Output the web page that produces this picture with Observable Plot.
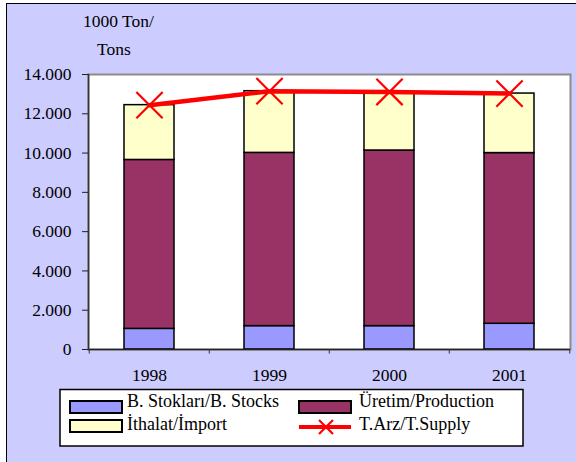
<!DOCTYPE html>
<html>
<head>
<meta charset="utf-8">
<script src="https://cdn.jsdelivr.net/npm/d3@7"></script>
<script src="https://cdn.jsdelivr.net/npm/@observablehq/plot@0.6"></script>
<style>
  html, body { margin: 0; padding: 0; background: #ffffff; }
  #page { position: relative; width: 576px; height: 462px; overflow: hidden; font-family: 'Liberation Serif', serif; }
  #bg { position: absolute; left: 6px; top: 3px; width: 600px; height: 480px; background: #CCCCFF; border-left: 1.5px solid #000; border-top: 1.5px solid #000; }
  #chart { position: absolute; left: 0; top: 0; }
  #overlay { position: absolute; left: 0; top: 0; }
</style>
</head>
<body>
<div id="page">
  <div id="bg"></div>
  <div id="chart"></div>
  <svg id="overlay" width="576" height="462" font-family="Liberation Serif"></svg>
</div>
<script>
// ---- data ----
const years = ["1998", "1999", "2000", "2001"];
const seriesNames = ["B. Stokları/B. Stocks", "Üretim/Production", "İthalat/İmport"];
const seriesColors = ["#9999FF", "#993366", "#FFFFCC"];
const stocks = [1050, 1190, 1190, 1310];
const production = [8600, 8820, 8940, 8690];
const imports = [2790, 3140, 2980, 3030];
const supply = [12440, 13150, 13110, 13030];
const supplyName = "T.Arz/T.Supply";
const yTicks = [0, 2000, 4000, 6000, 8000, 10000, 12000, 14000];
const titleLines = ["1000 Ton/", "Tons"];

const seriesValues = [stocks, production, imports];
const barData = [];
years.forEach((y, i) => {
  seriesNames.forEach((s, j) => barData.push({year: y, series: s, value: seriesValues[j][i]}));
});
const lineData = years.map((y, i) => ({year: y, value: supply[i]}));

const fmt = d => d === 0 ? "0" : d3.format(",")(d).replace(/,/g, ".");
const FONT = "'Liberation Serif', serif";
const step = (570.5 - 88.5) / years.length;

const plot = Plot.plot({
  width: 576,
  height: 462,
  marginLeft: 88,
  marginRight: 6,
  marginTop: 74,
  marginBottom: 113,
  style: {background: "transparent", fontFamily: FONT, fontSize: "17.5px", color: "#000", overflow: "visible"},
  x: {domain: years, paddingInner: 0.58, paddingOuter: 0.29, label: null},
  y: {domain: [0, 14000], label: null},
  color: {domain: seriesNames, range: seriesColors},
  marks: [
    Plot.frame({fill: "white", stroke: "#8c8c8c", strokeWidth: 2}),
    Plot.barY(barData, {x: "year", y: "value", fill: "series", stroke: "#000", strokeWidth: 1.5}),
    Plot.ruleY([0], {stroke: "#222", strokeWidth: 1.5}),
    Plot.frame({anchor: "left", stroke: "#333", strokeWidth: 1.5}),
    Plot.ruleX(years, {x: d => d, y1: 0, y2: -230, dx: -step / 2, stroke: "#333", strokeWidth: 1}),
    Plot.ruleX(years.slice(-1), {x: d => d, y1: 0, y2: -230, dx: step / 2, stroke: "#333", strokeWidth: 1}),
    Plot.axisY({ticks: yTicks, tickFormat: fmt, tickSize: 6, tickPadding: 11, stroke: "#222", fill: "#000", fontSize: 17.5, fontFamily: FONT, label: null}),
    Plot.axisX({tickSize: 0, tickPadding: 19, fill: "#000", fontSize: 17.5, fontFamily: FONT, label: null}),
    Plot.lineY(lineData, {x: "year", y: "value", stroke: "#FF0000", strokeWidth: 4.5}),
    Plot.dot(lineData, {x: "year", y: "value", symbol: "times", r: 12, stroke: "#FF0000", strokeWidth: 2.2})
  ]
});
document.getElementById("chart").appendChild(plot);

// ---- title and legend ----
const ov = d3.select("#overlay");
ov.append("text").attr("x", 83).attr("y", 27).attr("font-size", 17.5).text(titleLines[0]);
ov.append("text").attr("x", 97).attr("y", 55).attr("font-size", 17.5).text(titleLines[1]);

ov.append("rect").attr("x", 60).attr("y", 389.5).attr("width", 463).attr("height", 56.5)
  .attr("fill", "white").attr("stroke", "#000").attr("stroke-width", 1.5);

const legendItems = [
  {name: seriesNames[0], color: seriesColors[0], x: 70, y: 401, tx: 127, ty: 407},
  {name: seriesNames[1], color: seriesColors[1], x: 299, y: 401, tx: 359, ty: 407},
  {name: seriesNames[2], color: seriesColors[2], x: 70, y: 420, tx: 127, ty: 430}
];
legendItems.forEach(it => {
  ov.append("rect").attr("x", it.x).attr("y", it.y).attr("width", 52).attr("height", 12)
    .attr("fill", it.color).attr("stroke", "#000").attr("stroke-width", 2);
  ov.append("text").attr("x", it.tx).attr("y", it.ty).attr("font-size", 18).text(it.name);
});
ov.append("line").attr("x1", 299).attr("x2", 351).attr("y1", 427).attr("y2", 427)
  .attr("stroke", "#FF0000").attr("stroke-width", 4);
ov.append("path").attr("d", "M319,420L333,434M333,420L319,434")
  .attr("stroke", "#FF0000").attr("stroke-width", 2.2);
ov.append("text").attr("x", 359).attr("y", 430).attr("font-size", 18).text(supplyName);
</script>
</body>
</html>
